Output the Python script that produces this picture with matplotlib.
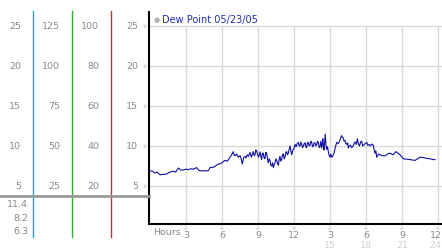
import matplotlib.pyplot as plt
from matplotlib.transforms import blended_transform_factory

# --- data ---
hours = [0, 0.2, 0.42, 0.6, 0.83, 1.1, 1.39, 1.6, 1.94, 2.15,
         2.36, 2.55, 2.78, 3.0, 3.2, 3.4, 3.61, 3.89, 4.05, 4.17,
         4.5, 4.86, 5.0, 5.3, 5.69, 5.9, 6.25, 6.45, 6.67, 6.8,
         6.94, 7.02, 7.1, 7.22, 7.35, 7.5, 7.6, 7.69, 7.8, 7.92,
         8.0, 8.1, 8.2, 8.33, 8.45, 8.53, 8.61, 8.68, 8.75, 8.82,
         8.89, 8.97, 9.05, 9.17, 9.23, 9.3, 9.37, 9.44, 9.51, 9.58,
         9.65, 9.72, 9.85, 9.93, 10.0, 10.07, 10.14, 10.21, 10.28, 10.35,
         10.42, 10.49, 10.56, 10.63, 10.7, 10.77, 10.83, 10.9, 10.97, 11.04,
         11.11, 11.18, 11.25, 11.32, 11.39, 11.46, 11.53, 11.6, 11.67, 11.74,
         11.81, 11.9, 12.0, 12.09, 12.18, 12.27, 12.36, 12.43, 12.5, 12.57,
         12.64, 12.71, 12.78, 12.85, 12.92, 12.98, 13.05, 13.12, 13.19, 13.26,
         13.33, 13.4, 13.47, 13.54, 13.61, 13.68, 13.75, 13.82, 13.9, 13.96,
         14.03, 14.1, 14.17, 14.24, 14.31, 14.36, 14.4, 14.45, 14.5, 14.55,
         14.6, 14.66, 14.72, 14.79, 14.86, 14.93, 15.0, 15.07, 15.14, 15.22,
         15.33, 15.45, 15.56, 15.68, 15.8, 15.88, 15.97, 16.03, 16.1, 16.17,
         16.25, 16.32, 16.4, 16.47, 16.53, 16.6, 16.7, 16.8, 16.94, 17.02,
         17.1, 17.19, 17.28, 17.36, 17.45, 17.55, 17.64, 17.72, 17.8, 17.93,
         18.06, 18.15, 18.25, 18.36, 18.47, 18.6, 18.68, 18.75, 18.82, 18.89,
         19.05, 19.17, 19.35, 19.58, 19.8, 20.0, 20.25, 20.5, 20.83, 21.11,
         21.4, 21.67, 22.08, 22.3, 22.5, 22.8, 23.06, 23.35, 23.61, 23.75]
dew_point = [6.9, 6.85, 6.6, 6.75, 6.4, 6.45, 6.5, 6.7, 6.85, 6.75,
             7.25, 7.0, 7.0, 7.1, 7.05, 7.15, 7.1, 7.3, 7.0, 6.9,
             6.9, 6.9, 7.3, 7.35, 7.75, 7.8, 8.2, 8.1, 8.6, 8.9,
             9.3, 8.8, 8.8, 9.0, 8.6, 8.8, 8.4, 7.75, 8.5, 8.7,
             8.5, 8.9, 8.7, 9.2, 8.6, 9.0, 9.3, 8.8, 8.9, 9.5,
             9.4, 8.9, 8.6, 9.25, 8.8, 8.3, 9.1, 9.1, 8.5, 8.4,
             9.2, 9.1, 7.9, 8.4, 8.2, 7.6, 7.5, 7.9, 7.3, 7.7,
             7.9, 8.4, 8.2, 7.8, 7.6, 8.4, 8.7, 8.1, 8.3, 8.9,
             9.0, 8.4, 8.6, 9.2, 9.3, 8.9, 9.1, 9.6, 10.0, 9.4,
             8.9, 9.5, 9.7, 10.2, 9.9, 10.3, 10.45, 10.0, 10.0, 10.5,
             10.2, 9.8, 10.0, 10.3, 10.4, 9.9, 9.8, 10.4, 10.45, 10.0,
             10.1, 10.6, 10.5, 9.9, 10.0, 10.4, 10.4, 10.0, 10.2, 10.6,
             10.45, 9.8, 9.9, 10.6, 9.75, 10.3, 10.9, 10.0, 9.5, 10.4,
             11.5, 10.2, 9.6, 9.9, 9.3, 8.8, 8.6, 9.0, 8.6, 8.7,
             9.1, 9.9, 10.45, 10.3, 10.6, 11.0, 11.3, 11.1, 11.0, 10.6,
             10.7, 10.3, 10.2, 10.4, 9.75, 10.0, 10.1, 9.8, 10.0, 10.4,
             10.5, 10.2, 10.9, 10.3, 10.0, 10.5, 10.6, 10.0, 10.1, 10.3,
             10.45, 10.1, 10.2, 10.0, 10.25, 10.1, 9.5, 9.1, 9.4, 8.6,
             9.0, 8.9, 8.8, 8.75, 9.0, 9.1, 8.9, 9.3, 8.9, 8.4,
             8.35, 8.3, 8.2, 8.4, 8.6, 8.55, 8.45, 8.4, 8.3, 8.3]

y_ticks = [5, 10, 15, 20, 25]
scale_cols = [["5", "10", "15", "20", "25"],
              ["25", "50", "75", "100", "125"],
              ["20", "40", "60", "80", "100"],
              ["5", "10", "15", "20", "25"]]
x_ticks = [3, 6, 9, 12, 15, 18, 21, 24]
x_labels_top = ["3", "6", "9", "12", "3", "6", "9", "12"]
x_labels_bottom = ["", "", "", "", "15", "18", "21", "24"]
bottom_values = ["11.4", "8.2", "6.3"]
legend_label = "Dew Point 05/23/05"

W, H = 442, 253
GRAY = "#8a8a8a"
FS = 6.8

fig = plt.figure(figsize=(W / 100, H / 100), dpi=100)
fig.patch.set_facecolor("white")


def fx(x):
    return x / W


def fy(y):
    return 1 - y / H


ax = fig.add_axes([fx(149), fy(225), (W - 149) / W, 212 / H])
ax.set_xlim(-0.08, 24.33)
ax.set_ylim(0.25, 26.75)
ax.set_facecolor("none")
for s in ["top", "right"]:
    ax.spines[s].set_visible(False)
for s in ["left", "bottom"]:
    ax.spines[s].set_color("black")
    ax.spines[s].set_linewidth(1.5)
ax.set_xticks([])
ax.set_yticks([])

# grid
for v in y_ticks:
    ax.axhline(v, color="#d9d9d9", lw=1, zorder=0)
ax.vlines(x_ticks, 0.25, 25, color="#d9d9d9", lw=1, zorder=0)

ax.plot(hours, dew_point, color="#1010a0", lw=0.8, zorder=3)

# legend
fig.text(fx(157), fy(20), "\u25cf", color="#b0b0b0", fontsize=5,
         ha="center", va="center")
fig.text(fx(162), fy(20), legend_label, color="#2030b0", fontsize=7,
         ha="left", va="center")

# x labels
tx = blended_transform_factory(ax.transData, fig.transFigure)
fig.text(fx(153), fy(233), "Hours", color=GRAY, fontsize=FS, ha="left", va="center")
for x, a, b in zip(x_ticks, x_labels_top, x_labels_bottom):
    ha = "right" if x == x_ticks[-1] else "center"
    xp = 24.3 if x == x_ticks[-1] else x
    ax.text(x, fy(229), "\u203b", transform=tx, color="#b8b8b8", fontsize=3.5,
            ha="center", va="center")
    ax.text(xp, fy(236), a, transform=tx, color=GRAY, fontsize=FS,
            ha=ha, va="center")
    ax.text(xp, fy(246), b, transform=tx, color="#d0d0d0", fontsize=FS,
            ha=ha, va="center")

# left scale panel
ty = blended_transform_factory(fig.transFigure, ax.transData)
col_right = [21, 60, 99, 138]
for xr, labels in zip(col_right, scale_cols):
    for v, lab in zip(y_ticks, labels):
        ax.text(fx(xr), v, lab, transform=ty, color=GRAY, fontsize=FS,
                ha="right", va="center", clip_on=False)
for v in y_ticks:
    ax.text(fx(145), v, "\u203b", transform=ty, color="#b8b8b8", fontsize=3.5,
            ha="center", va="center", clip_on=False)

for xv, c in [(33, "#3399cc"), (72, "#33aa33"), (111, "#bb3333")]:
    fig.add_artist(plt.Line2D([fx(xv), fx(xv)], [fy(12), fy(238)],
                              color=c, lw=1, transform=fig.transFigure))
fig.add_artist(plt.Line2D([0, fx(149)], [fy(197), fy(197)],
                          color="#9a9a9a", lw=2, transform=fig.transFigure))

for i, val in enumerate(bottom_values):
    fig.text(fx(28), fy(205 + 13.5 * i), val, color=GRAY, fontsize=FS,
             ha="right", va="center")

fig.savefig("out.png", dpi=100)
